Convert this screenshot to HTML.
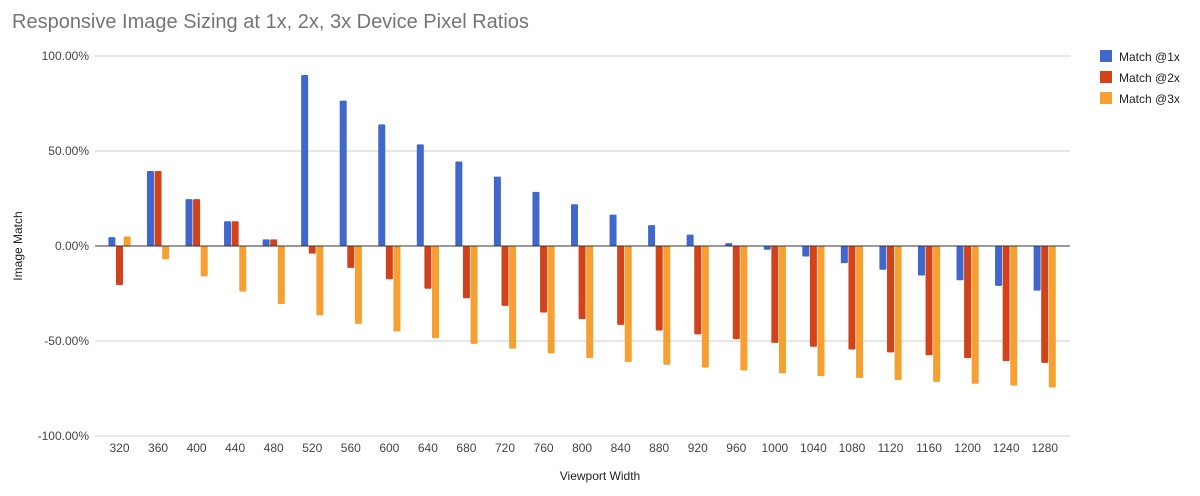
<!DOCTYPE html>
<html><head><meta charset="utf-8"><style>
body{margin:0;background:#fff;}
svg{display:block;font-family:"Liberation Sans",Arial,sans-serif;}
</style></head><body>
<svg id="chart" width="1200" height="496">
<text x="12" y="28" font-size="20" fill="#757575">Responsive Image Sizing at 1x, 2x, 3x Device Pixel Ratios</text>
<g id="grid"></g><g id="bars"></g><g id="xlabels"></g>
<line id="zero" stroke="#333" stroke-width="1"/>
<text x="600" y="480" font-size="12" fill="#222" text-anchor="middle">Viewport Width</text>
<text transform="translate(22,246) rotate(-90)" font-size="12" fill="#222" text-anchor="middle">Image Match</text>
<g id="legend"></g>
</svg>
<script>
const categories=[320,360,400,440,480,520,560,600,640,680,720,760,800,840,880,920,960,1000,1040,1080,1120,1160,1200,1240,1280];
const match1x=[4.7,39.5,24.7,13,3.5,90,76.5,64,53.5,44.5,36.5,28.5,22,16.5,11,6,1.5,-2,-5.5,-9,-12.5,-15.5,-18,-21,-23.5];
const match2x=[-20.5,39.5,24.7,13,3.5,-4,-11.5,-17.5,-22.5,-27.5,-31.5,-35,-38.5,-41.5,-44.5,-46.5,-49,-51,-53,-54.5,-56,-57.5,-59,-60.5,-61.5];
const match3x=[5,-7,-16,-24,-30.5,-36.5,-41,-45,-48.5,-51.5,-54,-56.5,-59,-61,-62.5,-64,-65.5,-67,-68.5,-69.5,-70.5,-71.5,-72.5,-73.5,-74.5];
const yTicks=[100,50,0,-50,-100];
const seriesNames=["Match @1x","Match @2x","Match @3x"];
const colors=["#3f67cc","#d2421b","#f5a030"];
const NS="http://www.w3.org/2000/svg";
const X0=95,X1=1070,step=38.55,first=119.5;
const xC=i=>first+step*i;
const yS=v=>246-v*1.9;
function mk(tag,attrs,parent){const e=document.createElementNS(NS,tag);for(const k in attrs)e.setAttribute(k,attrs[k]);parent.appendChild(e);return e;}
const grid=document.getElementById('grid');
yTicks.forEach(t=>{
  if(t!==0){const l=mk('line',{x1:X0,x2:X1,y1:yS(t),y2:yS(t),stroke:'#ccc'},grid);
  
  }
  const tx=mk('text',{x:89,y:yS(t)+4,'font-size':12,fill:'#444','text-anchor':'end'},grid);
  tx.textContent=t.toFixed(2)+'%';
  
  
});
const z=document.getElementById('zero');
z.setAttribute('x1',X0);z.setAttribute('x2',X1);z.setAttribute('y1',yS(0));z.setAttribute('y2',yS(0));
const bars=document.getElementById('bars');
const series=[match1x,match2x,match3x];
const bw=7.6;
categories.forEach((c,i)=>{
  series.forEach((s,k)=>{
    const v=s[i];const x=xC(i)-bw*1.5+k*bw+0.3;
    const y=Math.min(yS(v),yS(0)),h=Math.abs(yS(v)-yS(0));
    const r=mk('rect',{x:x,y:y,width:bw-0.6,height:h,rx:1,fill:colors[k]},bars);
    
    
  });
  const t=mk('text',{x:xC(i),y:452,'font-size':12,fill:'#444','text-anchor':'middle'},document.getElementById('xlabels'));
  t.textContent=c;
  
  
});
const lg=document.getElementById('legend');
seriesNames.forEach((n,k)=>{
  const g=mk('g',{},lg);
  
  
  mk('rect',{x:1100,y:50+k*21,width:12,height:12,fill:colors[k]},g);
  const t=mk('text',{x:1119,y:61+k*21,'font-size':12,fill:'#222'},g);
  t.textContent=n;
});
</script>
</body></html>
